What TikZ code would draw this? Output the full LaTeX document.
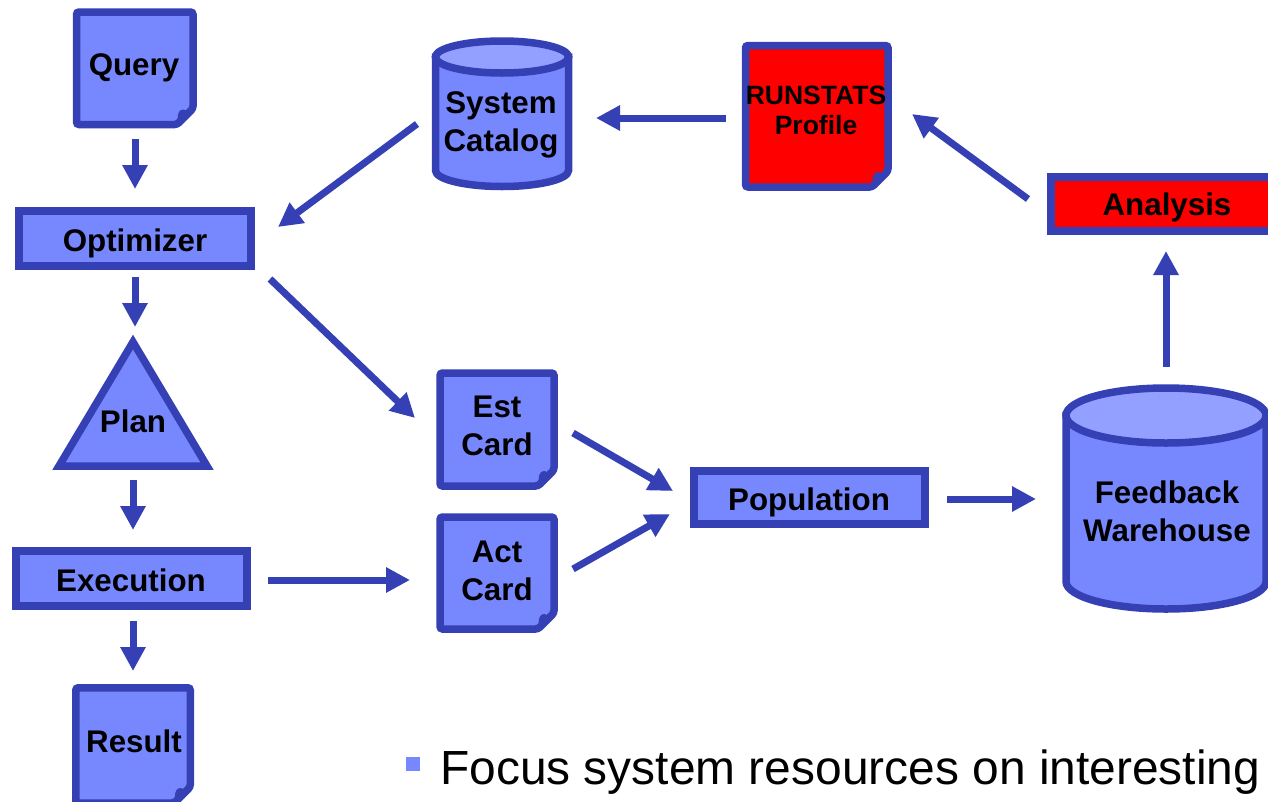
\documentclass[tikz,border=0pt]{standalone}
\usepackage{fontspec}
\setmainfont{Liberation Sans}
\usetikzlibrary{arrows.meta}
\definecolor{bd}{HTML}{3440B4}
\definecolor{fl}{HTML}{7788FF}
\definecolor{tp}{HTML}{94A0FF}
\definecolor{rd}{HTML}{FF0000}
\tikzset{
  arr/.style={draw=bd, line width=7pt, -{Triangle[length=24pt,width=24pt]}},
  shp/.style={draw=bd, line width=7.5pt, fill=fl},
  lbl/.style={font=\fontsize{31.3}{38}\selectfont\bfseries, inner sep=0pt, anchor=base},
  slbl/.style={font=\fontsize{26.5}{30}\selectfont\bfseries, inner sep=0pt, anchor=base},
}
\newcommand{\twolines}[2]{\begin{tabular}[t]{@{}c@{}}#1\\#2\end{tabular}}
% document shape: x1 y1 x2 y2 fill
\newcommand{\docshape}[5]{%
  \path[shp, fill=#5, rounded corners=2.5pt] (#1,#2) -- (#3,#2) -- (#3,#4-16) -- (#3-16,#4) -- (#1,#4) -- cycle;
  \fill[bd] (#3-16,#4) -- (#3-15,#4-10) .. controls (#3-14,#4-15) and (#3-10,#4-16) .. (#3-7,#4-14) -- (#3,#4-16) -- cycle;
}
% cylinder: cx, top cy, rx, ry, bottom cy
\newcommand{\cylshape}[5]{%
  \path[shp] (#1-#3,#2) -- (#1-#3,#5) arc[start angle=180, end angle=360, x radius=#3pt, y radius=#4pt] -- (#1+#3,#2) -- cycle;
  \path[shp, fill=tp] (#1,#2) ellipse[x radius=#3pt, y radius=#4pt];
}
\begin{document}
\begin{tikzpicture}[x=1pt,y=-1pt]
\useasboundingbox (0,0) rectangle (1268,801);
\clip (0,0) rectangle (1268,801);

% ---- shapes ----
\docshape{76.5}{12}{193}{124.5}{fl}
\path[shp] (19,211) rectangle (251,266);
\path[shp, line join=miter] (133,342) -- (207,466) -- (59,466) -- cycle;
\path[shp] (16,551) rectangle (247,606);
\docshape{75.75}{687.75}{190.25}{803}{fl}

\cylshape{502}{57}{66.5}{16}{170.5}
\docshape{745.5}{45.5}{888}{187}{rd}
\path[shp, fill=rd] (1051,177) rectangle (1290,231);
\cylshape{1166}{415.5}{100}{27.5}{581.5}

\docshape{440}{373}{554}{486}{fl}
\docshape{440}{517}{554}{629}{fl}
\path[shp] (694,471) rectangle (925,524);

% ---- labels ----
\node[lbl] (query) at (134,75) {Query};
\node[lbl] (opt) at (135,251) {Optimizer};
\node[lbl] (plan) at (133,432) {Plan};
\node[lbl] (exe) at (131,591) {Execution};
\node[lbl] (res) at (134,752) {Result};
\node[lbl] (cat) at (501,113) {\twolines{System}{Catalog}};
\node[slbl] (run) at (816,104) {\twolines{RUNSTATS}{Profile}};
\node[lbl] (ana) at (1167,215) {Analysis};
\node[lbl] (fb) at (1167,503) {\twolines{Feedback}{Warehouse}};
\node[lbl] (est) at (497,417) {\twolines{Est}{Card}};
\node[lbl] (act) at (497,562) {\twolines{Act}{Card}};
\node[lbl] (pop) at (809,510) {Population};

% ---- connector end points ----
\coordinate (qo-a) at (135,139);  \coordinate (qo-b) at (135,189);
\coordinate (op-a) at (135,277);  \coordinate (op-b) at (135,327);
\coordinate (pe-a) at (133,480);  \coordinate (pe-b) at (133,530);
\coordinate (er-a) at (133,621);  \coordinate (er-b) at (133,671);
\coordinate (co-a) at (417,124);  \coordinate (co-b) at (278,227);
\coordinate (rc-a) at (726,118);  \coordinate (rc-b) at (596,118);
\coordinate (ar-a) at (1028,199); \coordinate (ar-b) at (912,114);
\coordinate (oe-a) at (270,279);  \coordinate (oe-b) at (415,418);
\coordinate (ea-a) at (268,580);  \coordinate (ea-b) at (410,580);
\coordinate (ep-a) at (573,433);  \coordinate (ep-b) at (673,491);
\coordinate (ap-a) at (573,569);  \coordinate (ap-b) at (670,514);
\coordinate (pf-a) at (947,499);  \coordinate (pf-b) at (1036,499);
\coordinate (fa-a) at (1166,367); \coordinate (fa-b) at (1166,251);

\foreach \c in {qo,op,pe,er,co,rc,ar,oe,ea,ep,ap,pf,fa}
  \draw[arr] (\c-a) -- (\c-b);

% ---- bullet text ----
\fill[fl] (406,757) rectangle (420,771);
\node[font=\fontsize{47.9}{54}\selectfont, inner sep=0pt, anchor=base west] (note) at (440,784) {Focus system resources on interesting};
\end{tikzpicture}
\end{document}
